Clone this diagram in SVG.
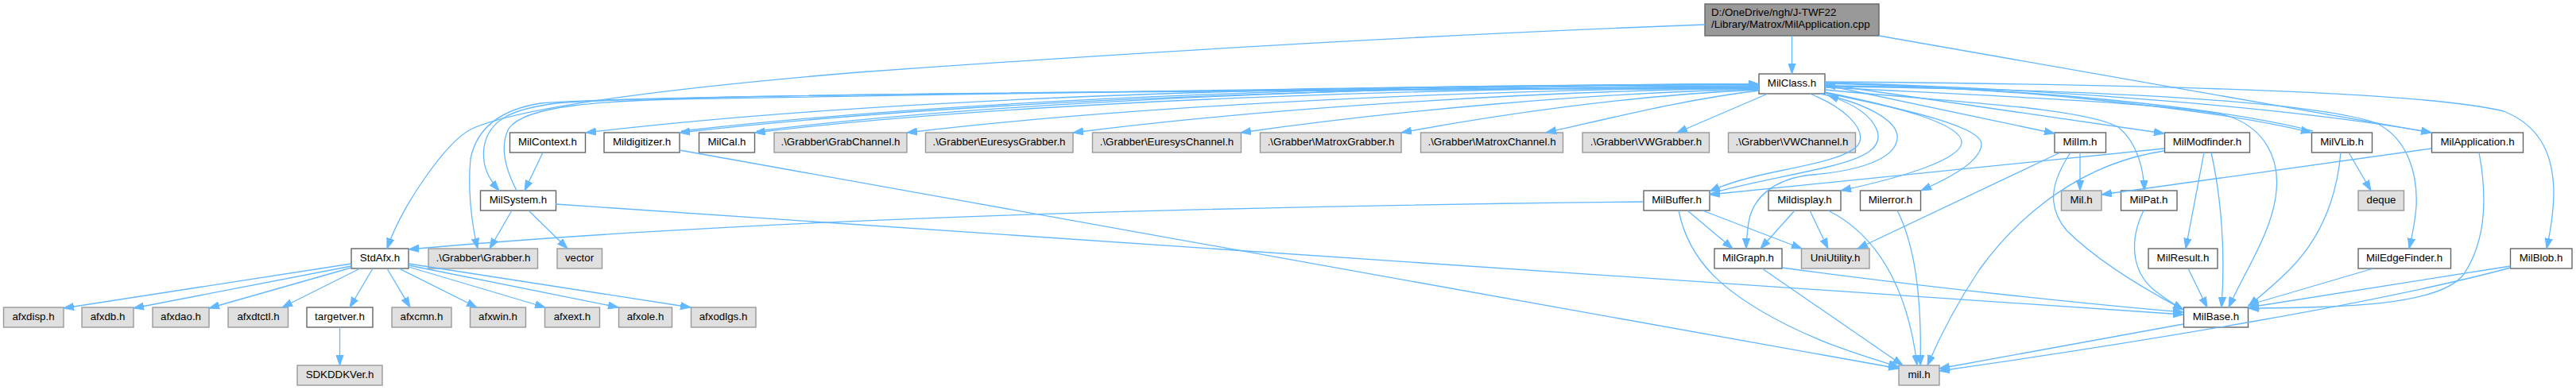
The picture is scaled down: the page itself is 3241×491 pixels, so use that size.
<svg xmlns="http://www.w3.org/2000/svg" width="3241" height="491" viewBox="0 0 3241 491">
<style>
.n rect{fill:#ffffff;stroke:#666666;stroke-width:1.4}
.g rect{fill:#E0E0E0;stroke:#999999;stroke-width:1.4}
.r rect{fill:#999999;stroke:#666666;stroke-width:1.4}
text{font-family:"Liberation Sans",Arial,Helvetica,sans-serif;font-size:13.3px;fill:#000000;text-anchor:middle}
.r text{text-anchor:start}
#edges path{fill:none;stroke:#63B8FF;stroke-width:1.3;marker-end:url(#ah)}
</style>
<defs>
<marker id="ah" markerUnits="userSpaceOnUse" markerWidth="14" markerHeight="10" refX="13" refY="5" orient="auto">
<path d="M0,0.4 L13,5 L0,9.6 z" fill="#63B8FF" stroke="#63B8FF" stroke-width="1"/>
</marker>
</defs>
<rect width="3241" height="491" fill="#ffffff"/>
<g id="nodes">
<g id="root" class="r"><rect x="2145" y="5" width="219" height="40"/><text x="2153" y="20">D:/OneDrive/ngh/J-TWF22</text><text x="2153" y="35">/Library/Matrox/MilApplication.cpp</text></g>
<g id="MilClass" class="n"><rect x="2213" y="93" width="83" height="25"/><text x="2254.5" y="109">MilClass.h</text></g>
<g id="MilContext" class="n"><rect x="641.5" y="167" width="95" height="25"/><text x="689" y="183">MilContext.h</text></g>
<g id="Mildigitizer" class="n"><rect x="760" y="167" width="95" height="25"/><text x="807.5" y="183">Mildigitizer.h</text></g>
<g id="MilCal" class="n"><rect x="879.5" y="167" width="70" height="25"/><text x="914.5" y="183">MilCal.h</text></g>
<g id="GrabChannel" class="g"><rect x="974" y="167" width="167" height="25"/><text x="1057.5" y="183">.\Grabber\GrabChannel.h</text></g>
<g id="EuresysGrabber" class="g"><rect x="1164.5" y="167" width="185.5" height="25"/><text x="1257" y="183">.\Grabber\EuresysGrabber.h</text></g>
<g id="EuresysChannel" class="g"><rect x="1374.5" y="167" width="187" height="25"/><text x="1468" y="183">.\Grabber\EuresysChannel.h</text></g>
<g id="MatroxGrabber" class="g"><rect x="1585.5" y="167" width="177.5" height="25"/><text x="1674.5" y="183">.\Grabber\MatroxGrabber.h</text></g>
<g id="MatroxChannel" class="g"><rect x="1787.5" y="167" width="179" height="25"/><text x="1877" y="183">.\Grabber\MatroxChannel.h</text></g>
<g id="VWGrabber" class="g"><rect x="1991" y="167" width="159.5" height="25"/><text x="2071" y="183">.\Grabber\VWGrabber.h</text></g>
<g id="VWChannel" class="g"><rect x="2174.5" y="167" width="160" height="25"/><text x="2254.5" y="183">.\Grabber\VWChannel.h</text></g>
<g id="MilIm" class="n"><rect x="2585" y="167" width="64.5" height="25"/><text x="2617" y="183">MilIm.h</text></g>
<g id="MilModfinder" class="n"><rect x="2723.5" y="167" width="107" height="25"/><text x="2777" y="183">MilModfinder.h</text></g>
<g id="MilVLib" class="n"><rect x="2908.5" y="167" width="76" height="25"/><text x="2946.5" y="183">MilVLib.h</text></g>
<g id="MilApplicationH" class="n"><rect x="3059.5" y="167" width="115" height="25"/><text x="3117" y="183">MilApplication.h</text></g>
<g id="MilSystem" class="n"><rect x="604.5" y="240" width="95" height="25"/><text x="652" y="256">MilSystem.h</text></g>
<g id="MilBuffer" class="n"><rect x="2068" y="240" width="83" height="25"/><text x="2109.5" y="256">MilBuffer.h</text></g>
<g id="Mildisplay" class="n"><rect x="2225" y="240" width="91" height="25"/><text x="2270.5" y="256">Mildisplay.h</text></g>
<g id="Milerror" class="n"><rect x="2340.5" y="240" width="76" height="25"/><text x="2378.5" y="256">Milerror.h</text></g>
<g id="MilH" class="g"><rect x="2593.5" y="240" width="50.5" height="25"/><text x="2618.5" y="256">Mil.h</text></g>
<g id="MilPat" class="n"><rect x="2668.5" y="240" width="70.5" height="25"/><text x="2703.5" y="256">MilPat.h</text></g>
<g id="deque" class="g"><rect x="2967" y="240" width="57.5" height="25"/><text x="2996" y="256">deque</text></g>
<g id="StdAfx" class="n"><rect x="442" y="313" width="72" height="25"/><text x="478" y="329">StdAfx.h</text></g>
<g id="Grabber" class="g"><rect x="539" y="313" width="137.5" height="25"/><text x="608" y="329">.\Grabber\Grabber.h</text></g>
<g id="vector" class="g"><rect x="701" y="313" width="56.5" height="25"/><text x="729" y="329">vector</text></g>
<g id="MilGraph" class="n"><rect x="2157" y="313" width="85" height="25"/><text x="2199.5" y="329">MilGraph.h</text></g>
<g id="UniUtility" class="g"><rect x="2266.5" y="313" width="85.5" height="25"/><text x="2309" y="329">UniUtility.h</text></g>
<g id="MilResult" class="n"><rect x="2703" y="313" width="87" height="25"/><text x="2746.5" y="329">MilResult.h</text></g>
<g id="MilEdgeFinder" class="n"><rect x="2967" y="313" width="116.5" height="25"/><text x="3025" y="329">MilEdgeFinder.h</text></g>
<g id="MilBlob" class="n"><rect x="3158.5" y="313" width="77.5" height="25"/><text x="3197" y="329">MilBlob.h</text></g>
<g id="afxdisp" class="g"><rect x="4.5" y="387" width="75.5" height="25"/><text x="42" y="403">afxdisp.h</text></g>
<g id="afxdb" class="g"><rect x="103" y="387" width="65" height="25"/><text x="135.5" y="403">afxdb.h</text></g>
<g id="afxdao" class="g"><rect x="192" y="387" width="71" height="25"/><text x="227.5" y="403">afxdao.h</text></g>
<g id="afxdtctl" class="g"><rect x="287" y="387" width="75.5" height="25"/><text x="325" y="403">afxdtctl.h</text></g>
<g id="targetver" class="n"><rect x="386" y="387" width="83" height="25"/><text x="427.5" y="403">targetver.h</text></g>
<g id="afxcmn" class="g"><rect x="493" y="387" width="75" height="25"/><text x="530.5" y="403">afxcmn.h</text></g>
<g id="afxwin" class="g"><rect x="591.5" y="387" width="70" height="25"/><text x="626.5" y="403">afxwin.h</text></g>
<g id="afxext" class="g"><rect x="685.5" y="387" width="69" height="25"/><text x="720" y="403">afxext.h</text></g>
<g id="afxole" class="g"><rect x="778.5" y="387" width="67" height="25"/><text x="812" y="403">afxole.h</text></g>
<g id="afxodlgs" class="g"><rect x="869.5" y="387" width="81.5" height="25"/><text x="910" y="403">afxodlgs.h</text></g>
<g id="MilBase" class="n"><rect x="2747.5" y="387" width="81" height="25"/><text x="2788" y="403">MilBase.h</text></g>
<g id="SDKDDKVer" class="g"><rect x="374" y="460" width="107" height="25"/><text x="427.5" y="476">SDKDDKVer.h</text></g>
<g id="milh" class="g"><rect x="2389" y="460" width="51" height="25"/><text x="2414.5" y="476">mil.h</text></g>
</g>
<g id="edges">
<path d="M2254.5,45 L2254.5,93"/>
<path d="M2145,31 C1800,44 1400,68 1080,91 C850,110 650,135 592,163 C560,180 505,260 487,313"/>
<path d="M2364,45 L3059,167"/>
<path d="M2224,118 L2110,167"/>
<path d="M2213,114 C2120,125 2030,148 1945,167"/>
<path d="M2213,113 C2050,120 1880,145 1763,167"/>
<path d="M2213,112 C2000,117 1750,140 1561,167"/>
<path d="M2213,111 C1950,114 1600,135 1350,167"/>
<path d="M2213,110 C1900,112 1450,130 1141,167"/>
<path d="M2213,109 C1850,110 1300,125 949.5,167"/>
<path d="M2213,108 C1800,108 1250,122 855,167"/>
<path d="M2213,107 C1750,106 1150,118 737,167"/>
<path d="M857,165 C1250,120 1800,106 2213,106"/>
<path d="M952,165 C1300,122 1850,106 2213,106"/>
<path d="M650,240 C637,215 628,185 640,162 C660,132 760,126 900,124 C1400,116 1900,106 2213,106"/>
<path d="M2213,110 C1400,114 820,120 700,130 C645,137 615,150 609,185 C606,210 615,225 628,240"/>
<path d="M2213,111 C1400,115 800,120 680,130 C630,138 600,160 592,200 C588,240 594,285 601,313"/>
<path d="M2296,107 L2585,168"/>
<path d="M2296,106 L2723,168"/>
<path d="M2296,113 C2450,128 2620,135 2665,160 C2690,180 2697,215 2698,240"/>
<path d="M2296,105 C2550,110 2800,140 2908,167"/>
<path d="M2910,165 C2800,137 2550,108 2296,108"/>
<path d="M2296,104 C2600,112 2900,138 3059,167"/>
<path d="M2296,110 C2500,120 2730,130 2800,145 C2850,160 2868,200 2864,240 C2860,290 2825,340 2804,387"/>
<path d="M2296,109 C2600,112 2900,125 2990,155 C3030,175 3042,220 3040,260 C3038,285 3034,300 3031,313"/>
<path d="M2296,103 C2700,106 3050,115 3150,140 C3200,160 3212,200 3213,240 C3213,270 3208,295 3204,313"/>
<path d="M2277,118 C2320,135 2345,160 2340,178 C2335,195 2290,205 2240,215 C2200,223 2170,232 2151,241"/>
<path d="M2151,244 C2190,232 2250,222 2300,210 C2350,198 2368,185 2362,165 C2355,145 2330,130 2300,120"/>
<path d="M2290,118 C2340,128 2390,150 2387,175 C2384,200 2340,215 2280,220 C2230,225 2205,250 2200,280 C2198,295 2197,305 2197,313"/>
<path d="M2296,116 C2380,133 2470,155 2468,180 C2466,200 2400,222 2316,240"/>
<path d="M2296,117 C2400,138 2495,160 2493,182 C2491,205 2450,225 2417,240"/>
<path d="M2068,254 C1700,258 1000,270 514,314"/>
<path d="M2123,265 L2180,313"/>
<path d="M2142,265 L2267,313"/>
<path d="M2112,265 C2125,330 2170,370 2250,410 C2300,435 2350,450 2389,462"/>
<path d="M2258,265 L2215,313"/>
<path d="M2277,265 L2300,313"/>
<path d="M2300,265 C2360,295 2400,360 2412,460"/>
<path d="M2387,265 C2410,310 2418,380 2416,460"/>
<path d="M2217,338 L2394,460"/>
<path d="M2242,337 C2450,365 2650,385 2747,393"/>
<path d="M699,257 L2747,396"/>
<path d="M855,189 L2389,464"/>
<path d="M2592,192 L2337,313"/>
<path d="M2617,192 L2617,240"/>
<path d="M2605,192 C2580,230 2575,260 2600,290 C2640,330 2700,365 2747,390"/>
<path d="M2723,187 L2151,245"/>
<path d="M2723,190 C2620,205 2540,270 2490,340 C2460,385 2440,425 2425,460"/>
<path d="M2773,192 L2750,313"/>
<path d="M2782,192 C2795,250 2800,320 2795,387"/>
<path d="M2753,338 L2777,387"/>
<path d="M2697,265 C2680,300 2680,340 2710,365 C2725,377 2735,383 2747,390"/>
<path d="M2955,192 L2983,240"/>
<path d="M2945,192 C2940,250 2920,300 2880,340 C2860,360 2845,372 2829,385"/>
<path d="M3059,187 L2644,245"/>
<path d="M3119,192 C3128,240 3130,300 3100,345 C3070,385 2950,387 2829,388"/>
<path d="M2986,338 L2829,384"/>
<path d="M3158.5,335 L2829,387"/>
<path d="M3158.5,337 C3000,380 2700,430 2440,467"/>
<path d="M2747,408 L2440,464"/>
<path d="M683,192 L660,240"/>
<path d="M644,265 L616,313"/>
<path d="M665,265 L714,313"/>
<path d="M442,332 L80,388"/>
<path d="M442,335 L168,388"/>
<path d="M442,337 L263,388"/>
<path d="M453,338 L355,387"/>
<path d="M469,338 L440,387"/>
<path d="M487,338 L516,387"/>
<path d="M502,338 L600,387"/>
<path d="M514,336 L686,387"/>
<path d="M514,334 L778,387"/>
<path d="M514,332 L869,387"/>
<path d="M427.5,412 L427.5,460"/>
</g>
</svg>
